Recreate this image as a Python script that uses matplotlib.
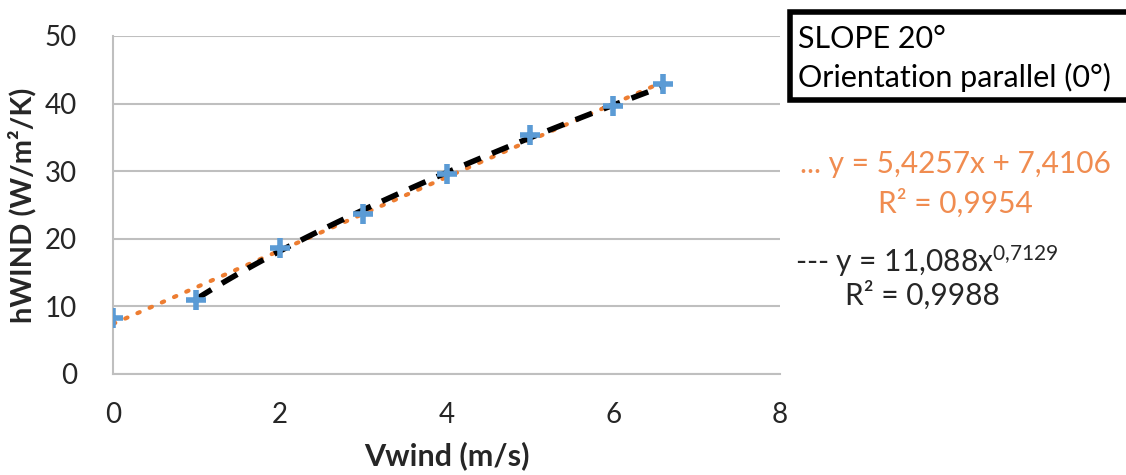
import numpy as np
import matplotlib
matplotlib.use("Agg")
import matplotlib.pyplot as plt
from matplotlib.patches import Rectangle

v_wind = [0, 1, 2, 3, 4, 5, 6, 6.6]
h_wind = [8.3, 10.9, 18.6, 23.7, 29.6, 35.4, 39.6, 42.9]

# trendline coefficients as printed on the chart
lin_a, lin_b = 5.4257, 7.4106
pow_a, pow_b = 11.088, 0.7129

x_ticks = [0, 2, 4, 6, 8]
y_ticks = [0, 10, 20, 30, 40, 50]

FONT = "Lato"
plt.rcParams['font.family'] = [FONT, 'DejaVu Sans']
plt.rcParams['mathtext.fontset'] = 'custom'
plt.rcParams['mathtext.rm'] = FONT
plt.rcParams['mathtext.it'] = FONT

BLUE = '#5B9BD5'
ORANGE = '#ED7D31'
ORANGE_TXT = '#F08C50'
GRID = '#BFBFBF'
TXT = '#262626'

W, H = 1126, 475
fig = plt.figure(figsize=(W / 100, H / 100), dpi=100)
ax = fig.add_axes([113 / W, 1 - 374 / H, (780 - 113) / W, (374 - 36) / H])

# trendlines
xl = np.linspace(min(v_wind), max(v_wind), 100)
ax.plot(xl, lin_a * xl + lin_b, color=ORANGE, lw=3, ls=(0, (0.6, 2.6)),
        dash_capstyle='round', zorder=2)
xp = np.linspace(v_wind[1], max(v_wind), 100)
ax.plot(xp, pow_a * xp ** pow_b, color='black', lw=4, ls=(0, (3.2, 2.2)), zorder=3)

# data
ax.plot(v_wind, h_wind, ls='none', marker='+', ms=15, mew=4, color=BLUE, zorder=4)

ax.set_xlim(0, 8)
ax.set_ylim(0, 50)
ax.set_xticks(x_ticks)
ax.set_yticks(y_ticks)
ax.grid(axis='y', color=GRID, lw=1.5)
ax.set_axisbelow(True)
for s in ['top', 'right']:
    ax.spines[s].set_visible(False)
for s in ['left', 'bottom']:
    ax.spines[s].set_color(GRID)
    ax.spines[s].set_linewidth(1.5)
ax.tick_params(length=0, labelsize=20, colors=TXT, pad=20)
ax.tick_params(axis='y', pad=26)

ax.set_xlabel('Vwind (m/s)', fontsize=22, fontweight='bold', color=TXT, labelpad=10)
ax.set_ylabel('hWIND (W/m²/K)', fontsize=21, fontweight='bold', color=TXT, labelpad=6)

# annotation box
fig.add_artist(Rectangle((790 / W, 1 - 100 / H), 340 / W, 88 / H, transform=fig.transFigure,
                         fc='white', ec='black', lw=4, clip_on=False))
fig.text(798 / W, 1 - 48 / H, 'SLOPE 20°', fontsize=22, color='black', va='baseline')
fig.text(798 / W, 1 - 87 / H, 'Orientation parallel (0°)', fontsize=22, color='black',
         va='baseline')

# trendline equations
fig.text(800 / W, 1 - 173 / H, '... y = 5,4257x + 7,4106', fontsize=21.5,
         color=ORANGE_TXT, va='baseline')
fig.text(955 / W, 1 - 213 / H, 'R² = 0,9954', fontsize=21.5,
         color=ORANGE_TXT, va='baseline', ha='center')
fig.text(795 / W, 1 - 272 / H, r'--- y = 11,088x$^{0{,}7129}$', fontsize=21.5,
         color=TXT, va='baseline')
fig.text(922 / W, 1 - 305 / H, 'R² = 0,9988', fontsize=21.5,
         color=TXT, va='baseline', ha='center')

fig.savefig('out.png', dpi=100)
